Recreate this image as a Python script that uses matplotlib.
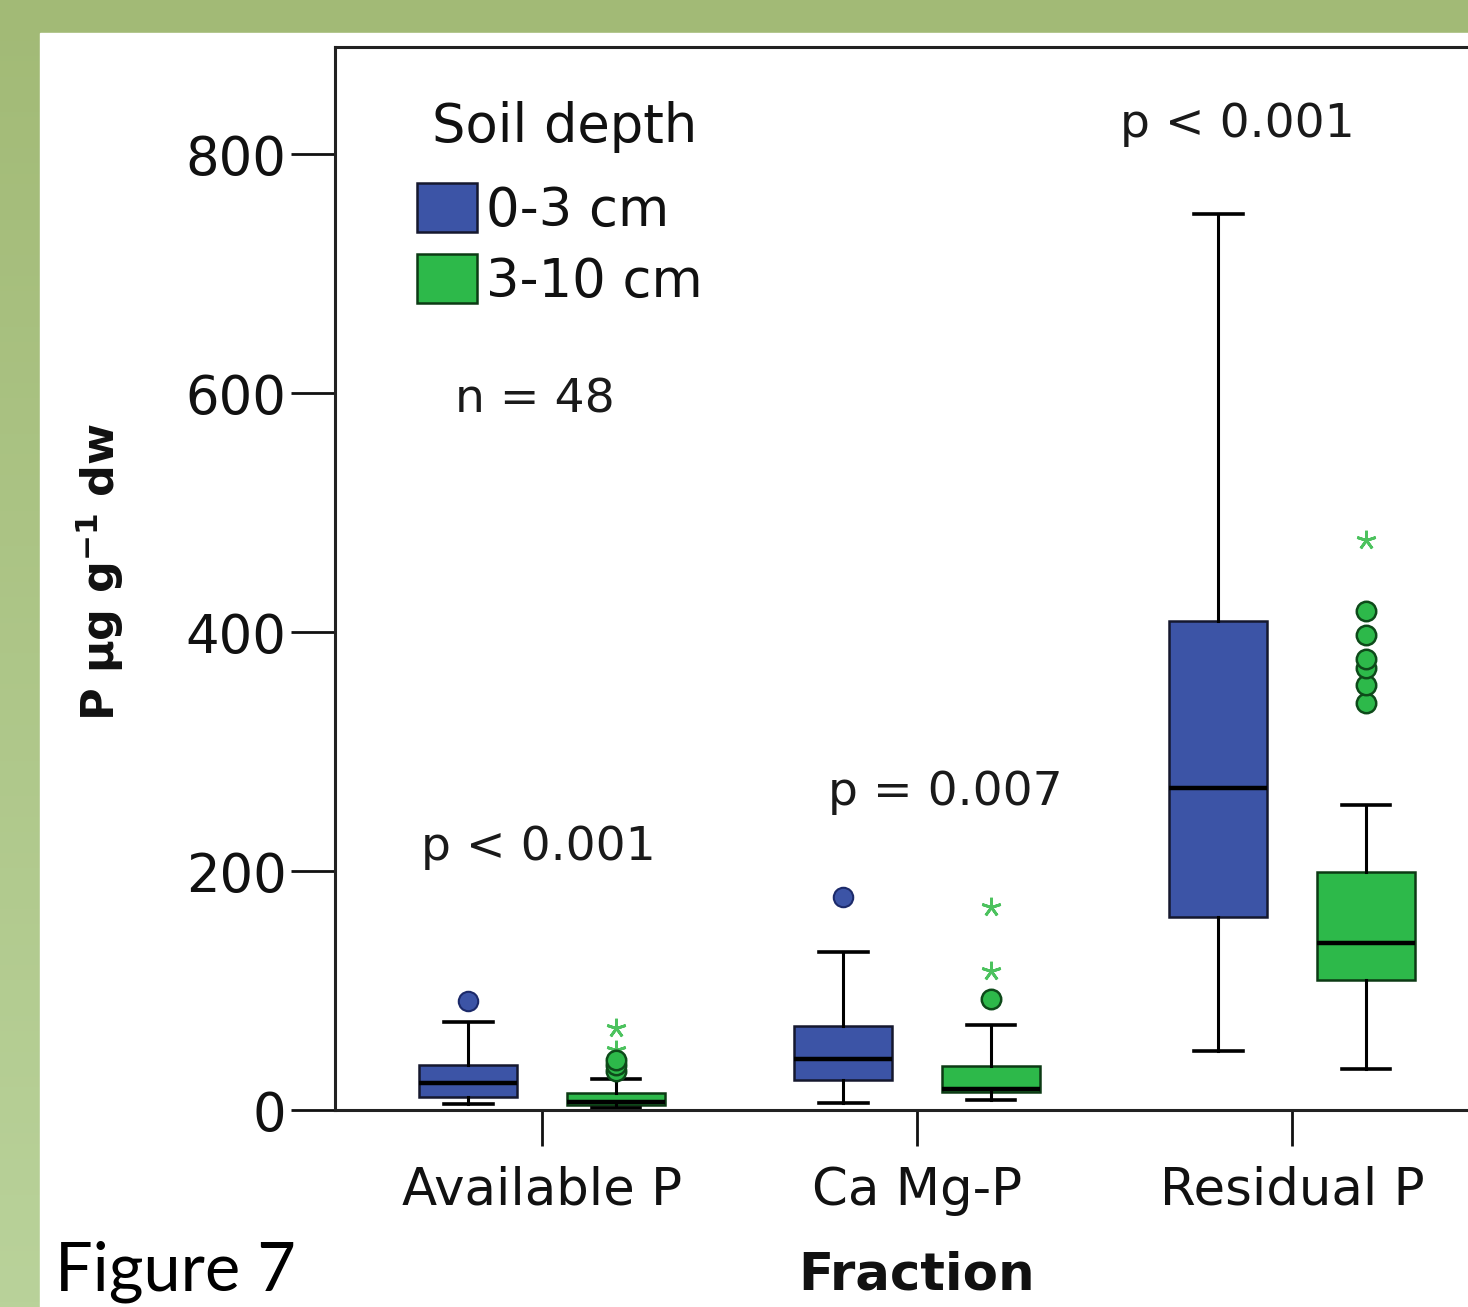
import matplotlib
matplotlib.use("Agg")
import matplotlib.pyplot as plt
import numpy as np
from matplotlib.patches import Rectangle

plt.rcParams['font.family'] = ['DejaVu Sans']
plt.rcParams['mathtext.fontset'] = 'dejavusans'

# ---- data ----
categories = ["Available P", "Ca Mg-P", "Residual P"]
depths = ["0-3 cm", "3-10 cm"]

# box stats per category: [whislo, q1, med, q3, whishi]
shallow_stats = [[5, 11, 23, 38, 74],
                 [6, 25, 43, 70, 132],
                 [49, 162, 270, 409, 750]]
deep_stats = [[2, 4, 7, 14, 26],
              [8, 15, 18, 37, 71],
              [34, 109, 140, 199, 255]]

shallow_outliers = [[91], [178], []]
deep_outliers = [[33, 38, 42], [93], [341, 356, 370, 378, 398, 418]]
deep_extremes = [[50, 69], [116, 170], [477]]

p_labels = ["p < 0.001", "p = 0.007", "p < 0.001"]
p_y = [220, 266, 825]
n_label = "n = 48"

blue = '#3c54a6'
green = '#2db94a'
edge = '#15182e'

W, H = 1468, 1307
fig = plt.figure(figsize=(W / 100, H / 100), dpi=100)

def fx(x):
    return x / W

def fy(y):
    return 1 - y / H

# background: green frame with gradient on left, white panel
bg = fig.add_axes([0, 0, 1, 1], zorder=-10)
grad = np.linspace(0, 1, 256).reshape(-1, 1)
c0 = np.array([0xa2, 0xba, 0x76]) / 255
c1 = np.array([0xb9, 0xd2, 0x9a]) / 255
img = c0[None, None, :] * (1 - grad[..., None]) + c1[None, None, :] * grad[..., None]
bg.imshow(img, aspect='auto', extent=[0, 1, 0, 1], origin='upper')
bg.add_patch(Rectangle((fx(40), 0), 1 - fx(40), fy(33), color='white'))
bg.set_xlim(0, 1)
bg.set_ylim(0, 1)
bg.axis('off')

# main axes
left, top, bottom = fx(335), fy(47), fy(1110)
xl = (-0.552, 2.6)
px_per_unit = 375
width = (xl[1] - xl[0]) * px_per_unit / W
ax = fig.add_axes([left, bottom, width, top - bottom])
ax.set_facecolor('none')

pos = np.arange(len(categories))
off = 0.197
bw = 0.26

def mkstats(lst, label):
    return [dict(whislo=s[0], q1=s[1], med=s[2], q3=s[3], whishi=s[4], fliers=[], label=label) for s in lst]

common = dict(widths=bw, capwidths=0.13, patch_artist=True, showfliers=False,
              whiskerprops=dict(color='black', lw=2.2),
              capprops=dict(color='black', lw=2.6),
              medianprops=dict(color='black', lw=3.2))

ax.bxp(mkstats(shallow_stats, depths[0]), positions=pos - off,
       boxprops=dict(facecolor=blue, edgecolor=edge, lw=1.8), **common)
ax.bxp(mkstats(deep_stats, depths[1]), positions=pos + off,
       boxprops=dict(facecolor=green, edgecolor='#0c3a14', lw=1.8), **common)

for i in range(len(categories)):
    if shallow_outliers[i]:
        ax.plot([pos[i] - off] * len(shallow_outliers[i]), shallow_outliers[i], 'o',
                ms=14, mfc=blue, mec='#1c2a6a', mew=1.5, zorder=5)
    if deep_outliers[i]:
        ax.plot([pos[i] + off] * len(deep_outliers[i]), deep_outliers[i], 'o',
                ms=14, mfc=green, mec='#0e4a1a', mew=1.8, zorder=5)
    if deep_extremes[i]:
        ax.plot([pos[i] + off] * len(deep_extremes[i]), deep_extremes[i], marker=(5, 2, 0),
                ls='none', ms=14, mec='#4cc25e', mew=2.0, zorder=4)

ax.set_xlim(*xl)
ax.set_ylim(0, 890)
ax.set_yticks([0, 200, 400, 600, 800])
ax.set_xticks(pos)
ax.set_xticklabels(categories)
for s in ['left', 'top', 'bottom', 'right']:
    ax.spines[s].set_linewidth(2.2)
    ax.spines[s].set_color('#222222')
ax.tick_params(axis='y', length=32, width=2, pad=3, labelsize=38, colors='#111111')
ax.tick_params(axis='x', length=26, width=2, pad=14, labelsize=37, colors='#111111')

# p-value and n annotations
p_x = [pos[0] - 0.01, pos[1] + 0.075, pos[2] - 0.145]
for x, y, t in zip(p_x, p_y, p_labels):
    ax.text(x, y, t, ha='center', va='center', fontsize=34, color='#1a1a1a')
fig.text(fx(535), fy(400), n_label, ha='center', va='center', fontsize=34, color='#1a1a1a')

# legend
fig.text(fx(565), fy(127), "Soil depth", ha='center', va='center', fontsize=38, color='#111111')
for (yy, col, ec), lab in zip([(183, blue, edge), (254, green, '#0c3a14')], depths):
    fig.patches.append(Rectangle((fx(417), fy(yy + 49)), fx(60), 49 / H, transform=fig.transFigure,
                                 facecolor=col, edgecolor=ec, lw=1.8))
    fig.text(fx(486), fy(yy + 28), lab, ha='left', va='center', fontsize=38, color='#111111')

# axis labels
fig.text(fx(100), fy(572), r'P µg g$^{\mathbf{-1}}$ dw', rotation=90, ha='center', va='center',
         fontsize=32, fontweight='bold', color='#111111')
fig.text(fx(917), fy(1275), "Fraction", ha='center', va='center', fontsize=37,
         fontweight='bold', color='#111111')
fig.text(fx(55), fy(1272), "Figure 7", ha='left', va='center', fontsize=48,
         family=['Lato', 'DejaVu Sans'], color='black')

fig.savefig("out.png", dpi=100)
